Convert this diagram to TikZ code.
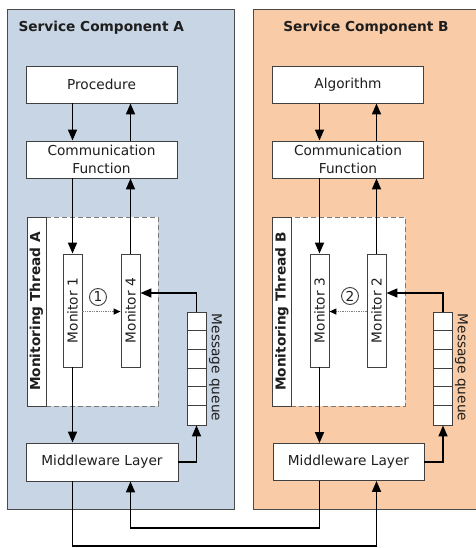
\documentclass[tikz,border=0pt]{standalone}
\usepackage{fontspec}
\setmainfont{DejaVu Sans}
\usetikzlibrary{arrows.meta}
\definecolor{compA}{HTML}{C8D5E4}
\definecolor{compB}{HTML}{F9CCA7}
\definecolor{frameline}{HTML}{4A4A4A}
\definecolor{boxline}{HTML}{404040}
\definecolor{dashline}{HTML}{7A7A7A}
\definecolor{inktext}{HTML}{1E1E1E}
\newcommand\diagfont{\fontsize{13.7bp}{18bp}\selectfont}

\begin{document}
\begin{tikzpicture}[x=1bp,y=-1bp,
  every node/.style={font=\diagfont, text=inktext},
  compbox/.style={draw=frameline, line width=0.9bp, inner sep=0},
  block/.style={draw=boxline, fill=white, line width=0.9bp, inner sep=0,
    minimum width=151bp, minimum height=37bp, align=center},
  monitor/.style={draw=boxline, fill=white, line width=0.9bp, inner sep=0,
    minimum width=19bp, minimum height=113bp},
  strip/.style={draw=boxline, fill=white, line width=0.9bp, inner sep=0,
    minimum width=19bp, minimum height=189bp},
  threadarea/.style={draw=dashline, dash pattern=on 5bp off 3bp, fill=white,
    line width=0.9bp, inner sep=0, minimum width=112bp, minimum height=189bp},
  queue/.style={draw=boxline, fill=white, line width=0.9bp, inner sep=0,
    minimum width=19bp, minimum height=113bp},
  stepmark/.style={circle, draw=boxline, line width=0.9bp, inner sep=0,
    minimum size=17bp},
  flow/.style={draw=black, line width=1.7bp, -{Triangle[length=11bp,width=9bp]}},
  hint/.style={draw=gray, densely dotted, line width=1.3bp,
    -{Triangle[length=7bp,width=6bp,color=black]}},
]
\useasboundingbox (0,0) rectangle (476,548);
\clip (0,0) rectangle (476,548);

% service components
\node[compbox, fill=compA, minimum width=227bp, minimum height=500bp] (svcA) at (120.5,259) {};
\node[compbox, fill=compB, minimum width=236bp, minimum height=500bp] (svcB) at (371,259) {};
\node[anchor=west, font=\diagfont\bfseries] (titleA) at (15,28) {Service Component A};
\node[font=\diagfont\bfseries] (titleB) at (366,28) {Service Component B};

% ---- component A ----
\node[block] (procA) at (101.5,84.5) {Procedure};
\node[block] (comA) at (101.5,159.5) {Communication\\Function};
\node[threadarea] (areaA) at (102,311.5) {};
\node[strip] (thrA) at (36.5,311.5) {\rotatebox{90}{\bfseries Monitoring Thread A}};
\node[monitor] (mon1) at (72.5,310.5) {\rotatebox{90}{Monitor 1}};
\node[monitor] (mon4) at (130.5,310.5) {\rotatebox{90}{Monitor 4}};
\node[queue] (qA) at (196.5,368.5) {};
\foreach \i in {1,...,5}
  \draw[draw=boxline, line width=0.9bp] (qA.north west) ++(0,\i*18.83) -- ++(19,0);
\node (qlabA) at (215.5,367.5) {\rotatebox{-90}{Message queue}};
\node[stepmark] (stepA) at (98,297) {1};
\node[block, minimum width=152bp, minimum height=38bp] (midA) at (102,462) {Middleware Layer};

% ---- component B ----
\node[block] (procB) at (348,84.5) {Algorithm};
\node[block] (comB) at (348,159.5) {Communication\\Function};
\node[threadarea, minimum width=114bp] (areaB) at (348,311.5) {};
\node[strip] (thrB) at (282,311.5) {\rotatebox{90}{\bfseries Monitoring Thread B}};
\node[monitor] (mon3) at (319.5,310.5) {\rotatebox{90}{Monitor 3}};
\node[monitor] (mon2) at (376.5,310.5) {\rotatebox{90}{Monitor 2}};
\node[queue] (qB) at (443,368.5) {};
\foreach \i in {1,...,5}
  \draw[draw=boxline, line width=0.9bp] (qB.north west) ++(0,\i*18.83) -- ++(19,0);
\node (qlabB) at (461.5,367.5) {\rotatebox{-90}{Message queue}};
\node[stepmark] (stepB) at (350,296) {2};
\node[block] (midB) at (348.5,462) {Middleware Layer};

% ---- connectors A ----
\draw[flow] (procA.south -| mon1.north) -- (comA.north -| mon1.north);
\draw[flow] (comA.north -| mon4.north) -- (procA.south -| mon4.north);
\draw[flow] (comA.south -| mon1.north) -- (mon1.north);
\draw[flow] (mon4.north) -- (comA.south -| mon4.north);
\draw[flow] (mon1.south) -- (midA.north -| mon1.south);
\draw[flow] (qA.north) |- ([yshift=17.5bp]mon4.east);
\draw[hint] (mon1.east |- qA.north) -- (mon4.west |- qA.north);
\draw[flow] (midA.east) -| (qA.south);

% ---- connectors B ----
\draw[flow] (procB.south -| mon3.north) -- (comB.north -| mon3.north);
\draw[flow] (comB.north -| mon2.north) -- (procB.south -| mon2.north);
\draw[flow] (comB.south -| mon3.north) -- (mon3.north);
\draw[flow] (mon2.north) -- (comB.south -| mon2.north);
\draw[flow] (mon3.south) -- (midB.north -| mon3.south);
\draw[flow] (qB.north) |- ([yshift=17.5bp]mon2.east);
\draw[hint] (mon2.west |- qB.north) -- (mon3.east |- qB.north);
\draw[flow] (midB.east) -| (qB.south);

% ---- links between the middleware layers ----
\coordinate (lowA) at (0,546);
\coordinate (lowB) at (0,528);
\draw[flow] (midA.south -| mon1.center) -- (lowA -| mon1.center)
  -- (lowA -| mon2.center) -- (midB.south -| mon2.center);
\draw[flow] (midB.south -| mon3.center) -- (lowB -| mon3.center)
  -- (lowB -| mon4.center) -- (midA.south -| mon4.center);
\end{tikzpicture}
\end{document}
